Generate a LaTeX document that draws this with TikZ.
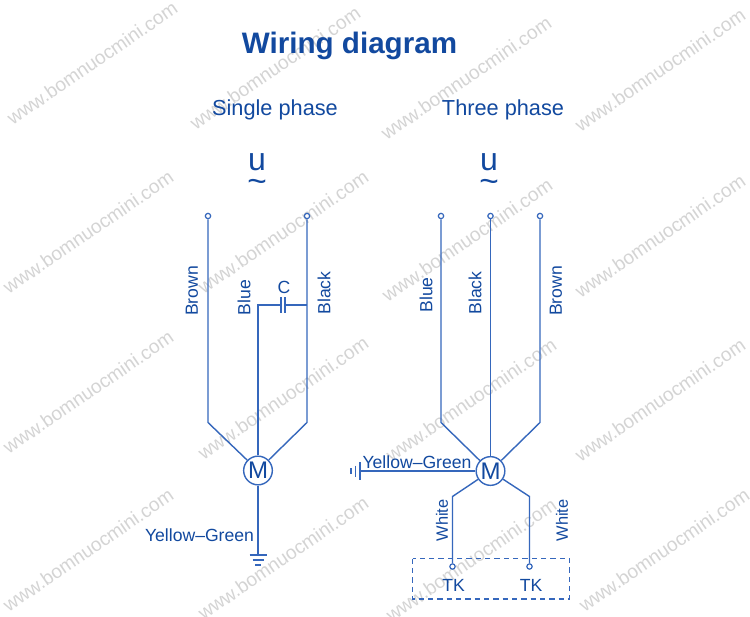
\documentclass[tikz,border=0pt]{standalone}
\usepackage{fontspec}
\setmainfont{Liberation Sans}
\usetikzlibrary{calc}
\definecolor{wirecol}{HTML}{3567BC}
\definecolor{textcol}{HTML}{12499F}
\definecolor{markcol}{HTML}{D4D4D4}
\tikzset{
	wire/.style={draw=wirecol, line width=1.05pt},
	lbl/.style={text=textcol, inner sep=0pt, font=\fontsize{13.2}{15}\selectfont},
	vlbl/.style={lbl, rotate=90},
	head/.style={text=textcol, inner sep=0pt, font=\fontsize{16.3}{18}\selectfont},
	unit/.style={text=textcol, inner sep=0pt, font=\fontsize{24}{26}\selectfont},
	wave/.style={text=textcol, inner sep=0pt, font=\fontsize{25}{27}\selectfont},
	terminal/.style={circle, draw=wirecol, fill=white, line width=0.9pt, minimum size=4pt, inner sep=0pt},
	motor/.style={circle, draw=wirecol, fill=white, line width=1.05pt, minimum size=21.5pt, inner sep=0pt, text=textcol, font=\fontsize{18}{20}\selectfont},
	stamp/.style={text=markcol, rotate=34.5, inner sep=0pt, font=\fontsize{14.4}{16}\selectfont}
}

\begin{document}
\begin{tikzpicture}[x=0.75pt, y=-0.75pt]
		\useasboundingbox (0,0) rectangle (750,617);
		\fill[white] (0,0) rectangle (750,617);
		
		\foreach \xx/\yy in {92/63, 275/68, 466/78, 660/70, 88/232, 283/232, 467/240, 660/236, 88/392, 283/398, 471/400, 660/400, 88/550, 283/558, 471/560, 664/550}
			\node[stamp] at (\xx,\yy) {www.bomnuocmini.com};
		
		\node[text=textcol, inner sep=0pt, font=\fontsize{22.2}{24}\selectfont\bfseries]	(title)	at	(349.5,45.5)	{Wiring diagram};
		\node[head]		(single)		at	(275,110)		{Single phase};
		\node[head]		(three)			at	(503,110)		{Three phase};
		\node[unit]		(uL)			at	(257,162)		{u};
		\node[wave]		(tildeL)		at	(257,186)		{\textasciitilde};
		\node[unit]		(uR)			at	(489,162)		{u};
		\node[wave]		(tildeR)		at	(489,186)		{\textasciitilde};
		
		% single phase
		\node[motor]	(motorL)		at	(258,470.5)		{M};
		\node[terminal]	(brownL)		at	(208,216)		{};
		\node[terminal]	(blackL)		at	(307,216)		{};
		\coordinate		(brownLb)		at	(208,422.5);
		\coordinate		(blackLb)		at	(307,422.5);
		\coordinate		(blueLt)		at	(258,305);
		\coordinate		(capLa)			at	(281,305);
		\coordinate		(capLb)			at	(285,305);
		\coordinate		(blackLj)		at	(307,305);
		\coordinate		(gndL)			at	(258,555);
		\draw[wire] (brownL)	-- (brownLb) -- (motorL);
		\draw[wire] (blackL)	-- (blackLb) -- (motorL);
		\draw[wire] (motorL)	-- (blueLt) -- (capLa);
		\draw[wire] (capLb)		-- (blackLj);
		\draw[wire] ($(capLa)+(0,-8)$) -- ($(capLa)+(0,8)$);
		\draw[wire] ($(capLb)+(0,-8)$) -- ($(capLb)+(0,8)$);
		\draw[wire] (motorL)	-- (gndL);
		\draw[wire] ($(gndL)+(-8.5,0)$) -- ($(gndL)+(8.5,0)$);
		\draw[wire] ($(gndL)+(-5.5,5)$) -- ($(gndL)+(5.5,5)$);
		\draw[wire] ($(gndL)+(-3,10)$) -- ($(gndL)+(3,10)$);
		
		\node[vlbl]		(brownLt)		at	(192,291)		{Brown};
		\node[vlbl]		(blueLl)		at	(244,297.5)		{Blue};
		\node[vlbl]		(blackLl)		at	(324,293)		{Black};
		\node[lbl]		(capLl)			at	(284,287)		{C};
		\node[lbl]		(yellowL)		at	(199.5,535.5)	{Yellow--Green};
		
		% three phase
		\node[motor]	(motorR)		at	(490.5,471)		{M};
		\node[terminal]	(blueR)			at	(441,216)		{};
		\node[terminal]	(blackR)		at	(490.5,216)		{};
		\node[terminal]	(brownR)		at	(540,216)		{};
		\coordinate		(blueRb)		at	(441,422.5);
		\coordinate		(brownRb)		at	(540,422.5);
		\coordinate		(gndR)			at	(360,471);
		\coordinate		(whiteRa)		at	(452.5,496.5);
		\coordinate		(whiteRb)		at	(529.5,496.5);
		\node[terminal]	(tkA)			at	(452.5,566.5)	{};
		\node[terminal]	(tkB)			at	(529.5,566.5)	{};
		\draw[wire] (blueR)		-- (blueRb) -- (motorR);
		\draw[wire] (brownR)	-- (brownRb) -- (motorR);
		\draw[wire] (blackR)	-- (motorR);
		\draw[wire] (motorR)	-- (gndR);
		\draw[wire] ($(gndR)+(0,-9)$) -- ($(gndR)+(0,9)$);
		\draw[wire] ($(gndR)+(-4.5,-5.5)$) -- ($(gndR)+(-4.5,5.5)$);
		\draw[wire] ($(gndR)+(-9,-3)$) -- ($(gndR)+(-9,3)$);
		\draw[wire] (motorR)	-- (whiteRa) -- (tkA);
		\draw[wire] (motorR)	-- (whiteRb) -- (tkB);
		\draw[wire, dash pattern=on 4pt off 3pt] (412.5,558.5) rectangle (569.5,599);
		
		\node[vlbl]		(blueRl)		at	(426,295)		{Blue};
		\node[vlbl]		(blackRl)		at	(475,293)		{Black};
		\node[vlbl]		(brownRl)		at	(556,291)		{Brown};
		\node[lbl]		(yellowR)		at	(417,462)		{Yellow--Green};
		\node[vlbl, font=\fontsize{12.3}{14}\selectfont]	(whiteA)	at	(442,520.5)	{White};
		\node[vlbl, font=\fontsize{12.3}{14}\selectfont]	(whiteB)	at	(562,520.5)	{White};
		\node[lbl]		(tkAl)			at	(453.5,585.5)	{TK};
		\node[lbl]		(tkBl)			at	(531,585.5)		{TK};
	\end{tikzpicture}
\end{document}
